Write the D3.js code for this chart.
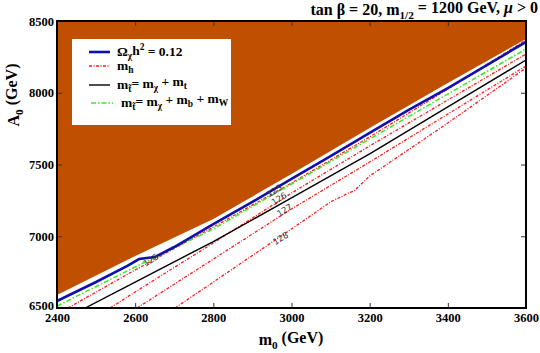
<!DOCTYPE html>
<html><head><meta charset="utf-8">
<script src="https://cdn.jsdelivr.net/npm/d3@7"></script>
<style>
body{margin:0;background:#fff;}
text{font-family:"Liberation Serif","Times New Roman",serif;}
</style></head>
<body><svg id="c" width="540" height="353"></svg>
<script>
// ---- data (m0 GeV, A0 GeV) ----
const m0Ticks = [2400, 2600, 2800, 3000, 3200, 3400, 3600];
const A0Ticks = [6500, 7000, 7500, 8000, 8500];
const brownEdge = [[2400,6591],[2600,6862],[2800,7120],[3000,7434],[3200,7754],[3400,8068],[3600,8375]];
const omegaLine = [[2400,6549],[2500,6681],[2580,6793],[2610,6841],[2650,6855],[2700,6925],[2800,7085],[2900,7239],[3000,7399],[3100,7559],[3200,7720],[3300,7880],[3400,8033],[3500,8193],[3600,8354]];
const greenLine = [[2400,6514],[2600,6786],[2800,7051],[3000,7364],[3200,7678],[3400,7991],[3600,8305]];
const blackLine = [[2472,6500],[2600,6681],[2800,6963],[3000,7267],[3200,7574],[3400,7901],[3600,8228]];
const mh125 = [[2428,6500],[2600,6765],[2800,7064],[3000,7371],[3200,7692],[3400,8026],[3600,8368]];
const mh126 = [[2536,6500],[2600,6612],[2800,6953],[3000,7301],[3200,7629],[3400,7950],[3600,8270]];
const mh127 = [[2605,6500],[2800,6841],[3000,7190],[3200,7517],[3400,7852],[3600,8186]];
const mh128 = [[2702,6500],[2800,6681],[3000,7051],[3100,7239],[3130,7280],[3145,7301],[3160,7315],[3200,7420],[3400,7789],[3600,8173]];
const contourLabels = [["125",2640,6835],["125",2956,7317],["126",2968,7262],["127",2982,7182],["128",2972,6985]];

const W=540,H=353, L=57,R=526,T=21,B=308;
const svg=d3.select("#c");
const x=d3.scaleLinear().domain([2400,3600]).range([L,R]);
const y=d3.scaleLinear().domain([6500,8500]).range([B,T]);
const line=d3.line().x(d=>x(d[0])).y(d=>y(d[1]));

svg.append("clipPath").attr("id","clip").append("rect").attr("x",L).attr("y",T).attr("width",R-L).attr("height",B-T);
const g=svg.append("g").attr("clip-path","url(#clip)");

// brown excluded region
const poly=[[2400,8500],...brownEdge,[3600,8500]];
g.append("path").attr("d",line(poly)+"Z").attr("fill","#c05000");

const red="#ff1a1a";
[mh125,mh126,mh127,mh128].forEach(d=>{
  g.append("path").attr("d",line(d)).attr("fill","none").attr("stroke",red).attr("stroke-width",1.3).attr("stroke-dasharray","3,1.5,1,1.5");
});
g.append("path").attr("d",line(blackLine)).attr("fill","none").attr("stroke","#000").attr("stroke-width",1.4);
g.append("path").attr("d",line(greenLine)).attr("fill","none").attr("stroke","#33ee22").attr("stroke-width",1.5).attr("stroke-dasharray","5,2,1.5,2");
g.append("path").attr("d",line(omegaLine)).attr("fill","none").attr("stroke","#1010b0").attr("stroke-width",2.6);

// contour labels
contourLabels.forEach(([t,a,b])=>{
  g.append("text").attr("transform",`translate(${x(a)},${y(b)}) rotate(-32)`).attr("text-anchor","middle").attr("dy","0.35em")
   .style("font-family","'DejaVu Sans',sans-serif").style("font-size","8.5px").attr("fill","#333").text(t);
});

// axes
const ax=svg.append("g");
ax.append("g").attr("transform",`translate(0,${B})`).call(d3.axisBottom(x).tickValues(m0Ticks).tickSizeInner(-5).tickSizeOuter(0).tickPadding(5).tickFormat(d3.format("d")));
ax.append("g").attr("transform",`translate(0,${T})`).call(d3.axisTop(x).tickValues(m0Ticks).tickSizeInner(-5).tickSizeOuter(0).tickFormat(""));
const yl=ax.append("g").attr("transform",`translate(${L},0)`).call(d3.axisLeft(y).tickValues(A0Ticks).tickSizeInner(-5).tickSizeOuter(0).tickPadding(3).tickFormat(d3.format("d")));
ax.append("g").attr("transform",`translate(${R},0)`).call(d3.axisRight(y).tickValues(A0Ticks).tickSizeInner(-5).tickSizeOuter(0).tickFormat(""));
ax.selectAll(".domain").remove();
ax.selectAll(".tick line").attr("stroke","#333").attr("stroke-width",1);
ax.selectAll(".tick text").style("font-family","'Liberation Serif',serif").style("font-size","12.5px").style("font-weight","bold").attr("fill","#000");
yl.selectAll(".tick text").filter(d=>d===6500).attr("dy","0.1em");
svg.append("rect").attr("x",L).attr("y",T).attr("width",R-L).attr("height",B-T).attr("fill","none").attr("stroke","#000").attr("stroke-width",2);

// legend
const lg=svg.append("g");
lg.append("rect").attr("x",72).attr("y",39).attr("width",159).attr("height",86).attr("fill","#fff");
const items=[
 {c:"#1010b0",w:2.6,da:null,y:52},
 {c:red,w:1.3,da:"3,1.5,1,1.5",y:66},
 {c:"#000",w:1.4,da:null,y:85},
 {c:"#33ee22",w:1.5,da:"5,2,1.5,2",y:103}
];
items.forEach((it,i)=>{
  lg.append("line").attr("x1",i==3?91:89).attr("x2",i==3?113:110).attr("y1",it.y).attr("y2",it.y).attr("stroke",it.c).attr("stroke-width",it.w).attr("stroke-dasharray",it.da);
});
function rich(sel, parts){
  parts.forEach(p=>{
    const t=sel.append("tspan").text(p[0]);
    if(p[1]==="sub"){t.attr("font-size","70%").attr("dy","0.35em");}
    if(p[1]==="sup"){t.attr("font-size","70%").attr("dy","-0.45em");}
    if(p[1]==="back"){t.attr("dy",p[2]);}
    if(p[1]==="it"){t.attr("font-style","italic");}
  });
}
const lt=(yy,xx)=>lg.append("text").attr("x",xx).attr("y",yy+4).style("font-size","13.5px").style("font-weight","bold");
rich(lt(52,117),[["Ω"],["χ","sub"],["h","back","-0.35em"],["2","sup"],[" = 0.12","back","0.45em"]]);
rich(lt(66,117),[["m"],["h","sub"]]);
rich(lt(85,117),[["m"],["t̃","sub"],["= m","back","-0.35em"],["χ","sub"],[" + m","back","-0.35em"],["t","sub"]]);
rich(lt(103,121),[["m"],["t̃","sub"],["= m","back","-0.35em"],["χ","sub"],[" + m","back","-0.35em"],["b","sub"],[" + m","back","-0.35em"],["W","sub"]]);

// title
const tt=svg.append("text").attr("x",538).attr("y",15).attr("text-anchor","end").style("font-size","16px").style("font-weight","bold");
rich(tt,[["tan β = 20, m"],["1/2","sub"],[" = 1200 GeV, ","back","-0.35em"],["μ","it"],[" > 0"]]);

// axis titles
const xtl=svg.append("text").attr("x",291).attr("y",345).attr("text-anchor","middle").style("font-size","16px").style("font-weight","bold");
rich(xtl,[["m"],["0","sub"],[" (GeV)","back","-0.35em"]]);
const ytl=svg.append("text").attr("transform","translate(19,95) rotate(-90)").attr("text-anchor","middle").style("font-size","16px").style("font-weight","bold");
rich(ytl,[["A"],["0","sub"],[" (GeV)","back","-0.35em"]]);
</script></body></html>
